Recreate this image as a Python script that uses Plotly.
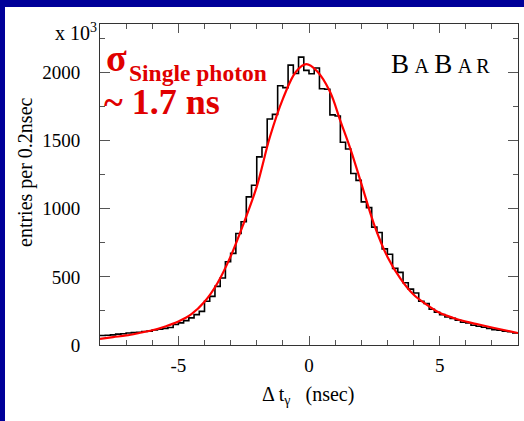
import plotly.graph_objects as go

# ---------------- data ----------------
bin_low = -8.0
bin_width = 0.2
hist_counts = [
    70, 72, 74, 80, 83, 88, 91, 93, 99, 102,
    110, 115, 122, 128, 150, 162, 179, 199, 223, 247,
    321, 357, 430, 492, 611, 672, 818, 904, 1087, 1172,
    1380, 1451, 1658, 1692, 1902, 1888, 2053, 1992, 2112, 2015,
    1990, 2032, 1880, 1876, 1688, 1680, 1487, 1438, 1258, 1208,
    1050, 1008, 865, 825, 705, 666, 562, 533, 457, 410,
    382, 321, 304, 262, 240, 223, 205, 195, 182, 167,
    162, 145, 138, 130, 121, 113, 108, 101, 97, 89,
]

fit_x = [-8, -7.5, -7, -6.5, -6, -5.5, -5, -4.5, -4, -3.5, -3, -2.5, -2, -1.5,
         -1, -0.5, -0.1, 0.3, 0.8, 1.2, 1.6, 2, 2.5, 3, 3.5, 4, 4.5, 5, 5.5,
         6, 6.5, 7, 7.5, 8]
fit_y = [45, 58, 70, 88, 108, 136, 172, 226, 317, 455, 650, 893, 1162, 1524,
         1806, 2005, 2060, 2010, 1860, 1645, 1430, 1186, 880, 648, 487, 370,
         296, 236, 200, 172, 150, 128, 108, 88]

x_ticks = [-5, 0, 5]
x_tick_labels = ["-5", "0", "5"]
y_ticks = [0, 500, 1000, 1500, 2000]

# ---------------- figure ----------------
edges = [bin_low + bin_width * i for i in range(len(hist_counts) + 1)]
step_y = hist_counts + [hist_counts[-1]]

W, H = 524, 421
L, R, T, B = 100, 6, 24, 76
PW, PH = W - L - R, H - T - B


def px(x):
    return (x - L) / PW


def py(y):
    return (H - B - y) / PH


serif = "Liberation Serif"
red_txt = "#e00000"

fig = go.Figure()
fig.add_trace(go.Scatter(x=edges, y=step_y, mode="lines",
                         line=dict(color="black", width=1.6, shape="hv"),
                         hoverinfo="skip", showlegend=False))
fig.add_trace(go.Scatter(x=fit_x, y=fit_y, mode="lines",
                         line=dict(color="#ff0000", width=2.2, shape="spline", smoothing=1.0),
                         hoverinfo="skip", showlegend=False))

axis_common = dict(showline=True, linecolor="#333333", linewidth=1,
                   mirror="ticks", ticks="inside", tickcolor="#555555",
                   showgrid=False, zeroline=False, automargin=False,
                   tickfont=dict(family=serif, size=19, color="black"))

fig.update_xaxes(range=[-8, 8], tickvals=x_ticks, ticktext=x_tick_labels,
                 ticklen=9, tickwidth=1,
                 minor=dict(dtick=1, ticklen=5, ticks="inside", tickcolor="#555555"),
                 ticklabelstandoff=3, **axis_common)
fig.update_yaxes(range=[0, 2355], tickvals=y_ticks, ticklen=10, tickwidth=1,
                 minor=dict(dtick=250, ticklen=5, ticks="inside", tickcolor="#555555"),
                 ticklabelstandoff=15, **axis_common)

babar = ("B\u2009<span style='font-size:20px'>A</span>\u2009B\u2009"
         "<span style='font-size:20px'>A\u2009R</span>")

annotations = [
    dict(text="x 10<sup>3</sup>", x=px(99), y=py(32), xanchor="right", yanchor="middle",
         font=dict(family=serif, size=20, color="black")),
    dict(text="entries per 0.2nsec", x=px(25), y=py(172), textangle=-90,
         xanchor="center", yanchor="middle",
         font=dict(family=serif, size=20, color="black")),
    dict(text="Δ t<sub>γ</sub>   (nsec)", x=px(308), y=py(396), xanchor="center", yanchor="middle",
         font=dict(family=serif, size=20, color="black")),
    dict(text="<b>σ</b>", x=px(116), y=py(58), xanchor="center", yanchor="middle",
         font=dict(family=serif, size=38, color=red_txt)),
    dict(text="<b>Single photon</b>", x=px(127), y=py(73), xanchor="left", yanchor="middle",
         font=dict(family=serif, size=23.5, color=red_txt)),
    dict(text="<b>~ 1.7 ns</b>", x=px(102), y=py(102), xanchor="left", yanchor="middle",
         font=dict(family=serif, size=36, color=red_txt)),
    dict(text=babar, x=px(440), y=py(64), xanchor="center", yanchor="middle",
         font=dict(family=serif, size=27, color="black")),
]
for a in annotations:
    a.update(xref="paper", yref="paper", showarrow=False)

fig.update_layout(
    width=W, height=H,
    margin=dict(l=L, r=R, t=T, b=B, pad=0, autoexpand=False),
    paper_bgcolor="#000099",
    plot_bgcolor="white",
    annotations=annotations,
    shapes=[dict(type="rect", xref="paper", yref="paper", layer="below",
                 x0=px(5), x1=px(W + 4), y0=py(H + 4), y1=py(7),
                 fillcolor="white", line=dict(width=0))],
)

fig.write_html("out.html", config={"displayModeBar": False},
               post_script="document.body.style.margin='0';document.body.style.background='#000099';")
